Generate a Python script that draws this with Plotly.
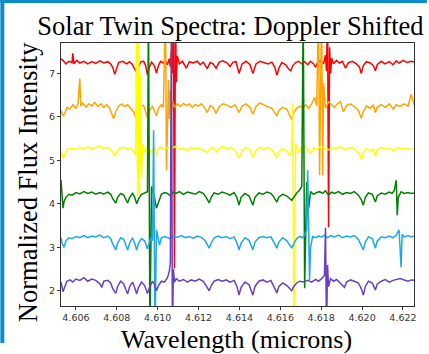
import plotly.graph_objects as go

# ---- data: (wavelength in microns, normalized flux) ----
red_points = [(4.60527,7.34),(4.60537,7.30),(4.60551,7.22),(4.60566,7.28),(4.60581,7.25),(4.60585,7.46),(4.60590,7.22),(4.60605,7.30),(4.60619,7.24),(4.60639,7.28),(4.60658,7.22),(4.60678,7.27),(4.60697,7.23),(4.60717,7.29),(4.60736,7.24),(4.60756,7.27),(4.60770,7.22),(4.60780,7.14),(4.60790,6.98),(4.60800,7.12),(4.60809,7.25),(4.60829,7.28),(4.60848,7.22),(4.60863,7.27),(4.60877,7.20),(4.60887,7.10),(4.60897,7.03),(4.60907,7.15),(4.60916,7.26),(4.60931,7.28),(4.60941,7.18),(4.60950,6.97),(4.60960,7.15),(4.60970,7.26),(4.60984,7.18),(4.60994,7.01),(4.61004,7.18),(4.61014,7.28),(4.61028,7.24),(4.61038,7.30),(4.61048,7.20),(4.61057,7.34),(4.61062,7.15),(4.61067,7.50),(4.61072,7.00),(4.61077,8.50),(4.61082,2.52),(4.61087,8.50),(4.61091,6.80),(4.61096,7.40),(4.61106,7.22),(4.61121,7.28),(4.61140,7.12),(4.61155,7.27),(4.61174,7.24),(4.61194,7.28),(4.61208,7.20),(4.61223,7.26),(4.61242,7.11),(4.61257,7.25),(4.61271,7.22),(4.61286,7.12),(4.61301,7.26),(4.61320,7.29),(4.61340,7.24),(4.61354,7.16),(4.61369,7.26),(4.61383,7.27),(4.61398,7.00),(4.61413,7.22),(4.61432,7.28),(4.61452,7.20),(4.61466,7.00),(4.61481,7.22),(4.61500,7.28),(4.61520,7.25),(4.61539,7.22),(4.61559,7.26),(4.61573,7.14),(4.61583,6.96),(4.61593,7.12),(4.61607,7.25),(4.61627,7.20),(4.61641,7.10),(4.61651,7.06),(4.61661,7.18),(4.61675,7.25),(4.61690,7.28),(4.61705,7.22),(4.61719,7.27),(4.61734,7.20),(4.61748,7.28),(4.61763,7.22),(4.61773,7.14),(4.61782,7.25),(4.61797,7.30),(4.61812,7.22),(4.61821,7.42),(4.61826,7.05),(4.61831,8.50),(4.61836,3.46),(4.61841,7.60),(4.61846,7.00),(4.61851,7.35),(4.61860,7.22),(4.61875,7.30),(4.61889,7.24),(4.61904,7.28),(4.61919,7.12),(4.61933,7.25),(4.61953,7.28),(4.61972,7.22),(4.61987,7.15),(4.61996,7.00),(4.62006,7.18),(4.62021,7.27),(4.62040,7.24),(4.62055,7.18),(4.62065,7.06),(4.62074,7.20),(4.62094,7.28),(4.62113,7.22),(4.62133,7.27),(4.62152,7.20),(4.62167,7.29),(4.62181,7.24),(4.62201,7.30),(4.62220,7.25),(4.62240,7.28),(4.62254,7.26)]

orange_points = [(4.60527,6.15),(4.60537,6.02),(4.60546,6.08),(4.60556,6.22),(4.60571,6.18),(4.60585,6.28),(4.60600,6.20),(4.60610,6.30),(4.60619,6.88),(4.60624,6.25),(4.60634,6.32),(4.60649,6.22),(4.60663,6.30),(4.60678,6.25),(4.60692,6.33),(4.60707,6.24),(4.60722,6.30),(4.60736,6.22),(4.60751,6.28),(4.60765,6.20),(4.60775,6.08),(4.60785,5.96),(4.60795,6.12),(4.60809,6.25),(4.60824,6.30),(4.60838,6.24),(4.60853,6.28),(4.60868,6.20),(4.60882,6.12),(4.60892,6.00),(4.60902,6.10),(4.60916,6.24),(4.60931,6.27),(4.60941,6.12),(4.60950,5.98),(4.60960,6.15),(4.60975,6.24),(4.60984,6.14),(4.60994,6.02),(4.61004,6.20),(4.61018,6.28),(4.61028,6.22),(4.61038,8.50),(4.61043,4.77),(4.61048,6.30),(4.61053,6.85),(4.61057,5.95),(4.61062,6.60),(4.61067,6.10),(4.61072,6.35),(4.61082,6.22),(4.61096,6.30),(4.61111,6.24),(4.61126,6.31),(4.61140,6.26),(4.61155,6.30),(4.61169,6.22),(4.61184,6.28),(4.61198,6.25),(4.61213,6.30),(4.61228,6.22),(4.61242,6.10),(4.61257,6.26),(4.61271,6.22),(4.61286,6.08),(4.61301,6.24),(4.61320,6.30),(4.61340,6.27),(4.61359,6.22),(4.61379,6.28),(4.61398,6.10),(4.61413,6.25),(4.61432,6.30),(4.61452,6.22),(4.61466,6.06),(4.61481,6.24),(4.61500,6.32),(4.61520,6.27),(4.61539,6.23),(4.61559,6.20),(4.61573,6.10),(4.61583,6.02),(4.61593,6.15),(4.61612,6.22),(4.61632,6.18),(4.61646,6.05),(4.61656,5.93),(4.61666,6.10),(4.61680,6.20),(4.61695,6.25),(4.61709,6.22),(4.61724,6.28),(4.61739,6.20),(4.61753,6.30),(4.61768,6.45),(4.61778,6.25),(4.61787,8.50),(4.61792,4.66),(4.61797,6.40),(4.61802,8.50),(4.61807,4.66),(4.61812,6.78),(4.61821,6.20),(4.61836,6.35),(4.61851,6.28),(4.61865,6.22),(4.61880,6.30),(4.61894,6.35),(4.61909,6.12),(4.61924,6.26),(4.61943,6.30),(4.61962,6.24),(4.61982,6.15),(4.61996,5.97),(4.62006,6.12),(4.62021,6.25),(4.62040,6.20),(4.62055,6.28),(4.62065,6.10),(4.62074,6.22),(4.62094,6.28),(4.62113,6.22),(4.62133,6.30),(4.62152,6.18),(4.62167,6.28),(4.62186,6.24),(4.62206,6.30),(4.62225,6.25),(4.62240,6.52),(4.62250,6.32),(4.62254,6.28)]

yellow_points = [(4.60527,5.22),(4.60537,5.05),(4.60546,5.15),(4.60561,5.26),(4.60581,5.28),(4.60600,5.25),(4.60619,5.30),(4.60639,5.27),(4.60658,5.31),(4.60678,5.26),(4.60697,5.30),(4.60717,5.33),(4.60736,5.27),(4.60756,5.30),(4.60770,5.25),(4.60780,5.18),(4.60790,5.10),(4.60800,5.20),(4.60814,5.28),(4.60834,5.30),(4.60853,5.25),(4.60868,5.28),(4.60882,5.22),(4.60892,5.12),(4.60897,8.50),(4.60902,4.20),(4.60907,8.50),(4.60911,4.20),(4.60916,7.00),(4.60921,4.60),(4.60926,5.40),(4.60936,5.18),(4.60945,5.30),(4.60955,5.08),(4.60965,5.25),(4.60975,5.20),(4.60984,5.30),(4.60994,5.12),(4.61004,5.28),(4.61018,5.30),(4.61033,5.25),(4.61048,5.30),(4.61067,5.27),(4.61087,5.32),(4.61106,5.25),(4.61126,5.28),(4.61145,5.22),(4.61164,5.30),(4.61184,5.26),(4.61203,5.29),(4.61223,5.24),(4.61242,5.18),(4.61257,5.27),(4.61271,5.30),(4.61286,5.20),(4.61301,5.28),(4.61320,5.32),(4.61340,5.26),(4.61359,5.30),(4.61379,5.22),(4.61398,5.05),(4.61413,5.22),(4.61432,5.30),(4.61452,5.25),(4.61466,5.07),(4.61481,5.22),(4.61500,5.30),(4.61520,5.26),(4.61539,5.30),(4.61559,5.24),(4.61573,5.15),(4.61583,5.05),(4.61593,5.20),(4.61612,5.27),(4.61632,5.22),(4.61646,5.12),(4.61656,5.20),(4.61661,6.31),(4.61667,1.00),(4.61675,5.40),(4.61690,5.20),(4.61705,5.28),(4.61719,5.32),(4.61734,5.25),(4.61748,5.15),(4.61763,5.30),(4.61778,5.25),(4.61797,5.32),(4.61816,5.28),(4.61836,5.24),(4.61855,5.30),(4.61875,5.27),(4.61894,5.32),(4.61914,5.25),(4.61933,5.28),(4.61953,5.30),(4.61972,5.22),(4.61987,5.15),(4.61996,5.02),(4.62006,5.18),(4.62021,5.28),(4.62040,5.22),(4.62055,5.26),(4.62065,5.10),(4.62074,5.24),(4.62094,5.30),(4.62113,5.25),(4.62133,5.28),(4.62152,5.22),(4.62172,5.30),(4.62191,5.26),(4.62211,5.28),(4.62230,5.25),(4.62254,5.27)]

green_points = [(4.60527,4.55),(4.60532,4.30),(4.60537,3.90),(4.60542,4.05),(4.60551,4.15),(4.60566,4.22),(4.60581,4.20),(4.60600,4.26),(4.60619,4.23),(4.60639,4.28),(4.60658,4.24),(4.60678,4.27),(4.60697,4.22),(4.60717,4.26),(4.60736,4.23),(4.60756,4.27),(4.60770,4.22),(4.60780,4.12),(4.60795,4.02),(4.60804,4.15),(4.60819,4.24),(4.60834,4.20),(4.60843,4.10),(4.60853,4.02),(4.60863,4.15),(4.60877,4.24),(4.60887,4.16),(4.60897,4.00),(4.60907,4.12),(4.60921,4.22),(4.60936,4.25),(4.60950,4.28),(4.60955,8.50),(4.60962,1.00),(4.60970,4.40),(4.60984,4.15),(4.60994,3.90),(4.61004,4.05),(4.61018,4.22),(4.61033,4.26),(4.61048,4.24),(4.61062,4.18),(4.61077,4.27),(4.61091,4.24),(4.61106,4.28),(4.61126,4.22),(4.61145,4.27),(4.61164,4.25),(4.61184,4.22),(4.61203,4.28),(4.61223,4.24),(4.61237,4.15),(4.61252,4.02),(4.61262,4.15),(4.61276,4.25),(4.61296,4.22),(4.61315,4.27),(4.61335,4.24),(4.61354,4.20),(4.61374,4.26),(4.61388,4.14),(4.61398,3.97),(4.61408,4.15),(4.61427,4.24),(4.61447,4.18),(4.61466,3.97),(4.61476,4.15),(4.61495,4.25),(4.61515,4.22),(4.61534,4.27),(4.61554,4.24),(4.61568,4.16),(4.61583,4.04),(4.61593,4.16),(4.61612,4.22),(4.61632,4.18),(4.61646,4.12),(4.61656,4.08),(4.61666,4.15),(4.61680,4.25),(4.61695,4.32),(4.61705,4.40),(4.61712,8.50),(4.61719,2.06),(4.61729,4.50),(4.61739,3.90),(4.61748,4.28),(4.61763,4.22),(4.61778,4.26),(4.61792,4.28),(4.61807,4.24),(4.61821,4.30),(4.61836,4.20),(4.61851,4.27),(4.61865,4.24),(4.61885,4.28),(4.61904,4.22),(4.61924,4.26),(4.61943,4.24),(4.61962,4.28),(4.61982,4.20),(4.61996,4.10),(4.62006,3.97),(4.62016,4.15),(4.62031,4.25),(4.62050,4.22),(4.62065,4.04),(4.62074,4.18),(4.62094,4.25),(4.62113,4.22),(4.62133,4.27),(4.62147,4.24),(4.62157,4.30),(4.62167,4.54),(4.62172,3.74),(4.62177,4.15),(4.62191,4.28),(4.62206,4.24),(4.62225,4.26),(4.62240,4.24),(4.62254,4.25)]

blue_points = [(4.60527,3.22),(4.60532,3.10),(4.60542,3.00),(4.60551,3.15),(4.60566,3.22),(4.60581,3.20),(4.60600,3.25),(4.60619,3.22),(4.60639,3.27),(4.60658,3.22),(4.60678,3.26),(4.60697,3.24),(4.60717,3.28),(4.60736,3.22),(4.60756,3.26),(4.60770,3.20),(4.60780,3.08),(4.60795,2.94),(4.60804,3.10),(4.60819,3.22),(4.60834,3.18),(4.60843,3.06),(4.60853,2.94),(4.60863,3.10),(4.60877,3.22),(4.60887,3.10),(4.60897,2.94),(4.60907,3.10),(4.60921,3.20),(4.60936,3.15),(4.60945,3.00),(4.60950,2.96),(4.60960,3.12),(4.60970,3.25),(4.60975,3.15),(4.60980,5.69),(4.60987,1.00),(4.60994,3.40),(4.61009,3.05),(4.61018,3.22),(4.61033,3.25),(4.61048,3.22),(4.61062,3.20),(4.61077,3.26),(4.61096,3.23),(4.61116,3.27),(4.61135,3.22),(4.61155,3.25),(4.61174,3.21),(4.61194,3.26),(4.61213,3.23),(4.61233,3.15),(4.61242,3.05),(4.61252,2.98),(4.61262,3.10),(4.61276,3.22),(4.61296,3.26),(4.61315,3.22),(4.61335,3.25),(4.61354,3.20),(4.61374,3.24),(4.61388,3.10),(4.61398,2.94),(4.61408,3.10),(4.61427,3.22),(4.61447,3.16),(4.61466,2.94),(4.61476,3.12),(4.61495,3.22),(4.61515,3.25),(4.61534,3.22),(4.61554,3.24),(4.61568,3.12),(4.61583,2.98),(4.61593,3.12),(4.61612,3.22),(4.61632,3.15),(4.61646,3.05),(4.61656,2.98),(4.61666,3.08),(4.61680,3.20),(4.61695,3.25),(4.61709,3.22),(4.61719,3.28),(4.61729,3.40),(4.61734,4.77),(4.61739,3.30),(4.61743,2.25),(4.61748,3.00),(4.61758,3.25),(4.61773,3.22),(4.61787,3.26),(4.61802,3.24),(4.61816,3.28),(4.61831,3.22),(4.61846,3.27),(4.61865,3.24),(4.61885,3.28),(4.61904,3.22),(4.61924,3.26),(4.61943,3.24),(4.61962,3.27),(4.61982,3.18),(4.61996,3.06),(4.62006,2.94),(4.62016,3.12),(4.62031,3.24),(4.62050,3.20),(4.62065,2.98),(4.62074,3.14),(4.62094,3.24),(4.62113,3.22),(4.62133,3.26),(4.62152,3.22),(4.62167,3.28),(4.62181,3.40),(4.62191,2.54),(4.62196,3.30),(4.62206,3.24),(4.62225,3.27),(4.62240,3.24),(4.62254,3.26)]

purple_points = [(4.60527,2.20),(4.60532,2.10),(4.60537,1.98),(4.60546,2.10),(4.60556,2.22),(4.60571,2.25),(4.60585,2.20),(4.60600,2.27),(4.60619,2.24),(4.60639,2.30),(4.60658,2.22),(4.60678,2.27),(4.60697,2.24),(4.60717,2.16),(4.60727,2.08),(4.60736,2.22),(4.60756,2.24),(4.60770,2.18),(4.60780,2.05),(4.60795,1.94),(4.60804,2.10),(4.60819,2.22),(4.60834,2.16),(4.60843,2.04),(4.60853,1.93),(4.60863,2.10),(4.60877,2.20),(4.60887,2.08),(4.60897,1.93),(4.60907,2.08),(4.60921,2.20),(4.60936,2.12),(4.60945,2.00),(4.60950,1.94),(4.60960,2.08),(4.60975,2.22),(4.60984,2.15),(4.60994,2.00),(4.61004,2.12),(4.61018,2.22),(4.61033,2.20),(4.61048,2.30),(4.61057,2.45),(4.61062,2.65),(4.61067,8.50),(4.61072,1.00),(4.61077,2.50),(4.61082,2.20),(4.61091,2.28),(4.61106,2.22),(4.61126,2.26),(4.61145,2.20),(4.61164,2.25),(4.61184,2.22),(4.61203,2.27),(4.61223,2.22),(4.61237,2.12),(4.61252,2.00),(4.61262,2.12),(4.61276,2.22),(4.61296,2.26),(4.61315,2.22),(4.61335,2.25),(4.61354,2.20),(4.61374,2.24),(4.61388,2.10),(4.61398,1.90),(4.61408,2.08),(4.61427,2.20),(4.61447,2.14),(4.61466,1.90),(4.61476,2.10),(4.61495,2.22),(4.61515,2.25),(4.61534,2.20),(4.61554,2.24),(4.61568,2.10),(4.61583,1.95),(4.61593,2.10),(4.61612,2.18),(4.61632,2.12),(4.61646,2.05),(4.61656,2.00),(4.61666,2.10),(4.61680,2.18),(4.61695,2.22),(4.61714,2.20),(4.61734,2.24),(4.61753,2.20),(4.61773,2.26),(4.61787,2.22),(4.61802,2.28),(4.61816,2.35),(4.61821,3.45),(4.61826,1.00),(4.61831,2.60),(4.61836,2.10),(4.61846,2.28),(4.61860,2.22),(4.61875,2.26),(4.61889,2.20),(4.61904,2.12),(4.61914,2.08),(4.61924,2.20),(4.61943,2.25),(4.61962,2.22),(4.61982,2.18),(4.61996,2.05),(4.62006,1.90),(4.62016,2.10),(4.62031,2.22),(4.62050,2.18),(4.62065,2.02),(4.62074,2.15),(4.62094,2.22),(4.62113,2.26),(4.62133,2.20),(4.62152,2.24),(4.62167,2.26),(4.62186,2.28),(4.62206,2.25),(4.62225,2.22),(4.62240,2.25),(4.62254,2.24)]

series_names = ["red", "orange", "yellow", "green", "blue", "purple"]
series_colors = ["#ff0000", "#ffa500", "#ffff00", "#008000", "#1ea7ea", "#6a3fc2"]
x_tick_values = [4.606, 4.608, 4.610, 4.612, 4.614, 4.616, 4.618, 4.620, 4.622]
x_tick_labels = ["4.606", "4.608", "4.610", "4.612", "4.614", "4.616", "4.618", "4.620", "4.622"]
y_tick_values = [2, 3, 4, 5, 6, 7]
x_range = [4.60527, 4.62254]
y_range = [1.65, 7.70]

all_points = [red_points, orange_points, yellow_points, green_points, blue_points, purple_points]

fig = go.Figure()
for name, pts, col in zip(series_names, all_points, series_colors):
    fig.add_trace(go.Scatter(
        x=[p[0] for p in pts], y=[p[1] for p in pts], mode="lines", name=name,
        line=dict(color=col, width=1.5), showlegend=False, hoverinfo="skip"))

serif = "Liberation Serif, Times New Roman, serif"
axis_common = dict(showline=True, mirror=True, linecolor="#333333", linewidth=1,
                   ticks="outside", ticklen=3, tickwidth=1, tickcolor="#333333",
                   showgrid=False, zeroline=False,
                   tickfont=dict(family="DejaVu Sans", size=9.5, color="#333333"))

fig.update_layout(
    width=429, height=354,
    margin=dict(l=61, r=13, t=43, b=48),
    paper_bgcolor="white", plot_bgcolor="white",
    title=dict(text="Solar Twin Spectra: Doppler Shifted",
               font=dict(family=serif, size=26.5, color="black"),
               xref="container", x=230.5/429, xanchor="center",
               yref="container", y=1 - 26/354, yanchor="middle"),
    xaxis=dict(range=x_range, tickvals=x_tick_values, ticktext=x_tick_labels, **axis_common),
    yaxis=dict(range=y_range, tickvals=y_tick_values, **axis_common),
    annotations=[
        dict(text="Wavelength (microns)", xref="paper", yref="paper",
             x=(237.5 - 61) / 355, y=(306 - 339) / 263, xanchor="center", yanchor="middle",
             showarrow=False, font=dict(family=serif, size=26, color="black")),
        dict(text="Normalized Flux Intensity", xref="paper", yref="paper",
             x=(28 - 61) / 355, y=(306 - 182) / 263, xanchor="center", yanchor="middle",
             textangle=-90, showarrow=False, font=dict(family=serif, size=26.5, color="black")),
    ],
    shapes=[
        dict(type="rect", xref="paper", yref="paper", x0=-61/355, x1=(4-61)/355,
             y0=(306-343)/263, y1=306/263, fillcolor="#0b8dcc", line=dict(width=0), layer="above"),
        dict(type="rect", xref="paper", yref="paper", x0=-61/355, x1=(429-61)/355,
             y0=(306-3)/263, y1=306/263, fillcolor="#0b8dcc", line=dict(width=0), layer="above"),
    ],
)

fig.write_html("out.html")
